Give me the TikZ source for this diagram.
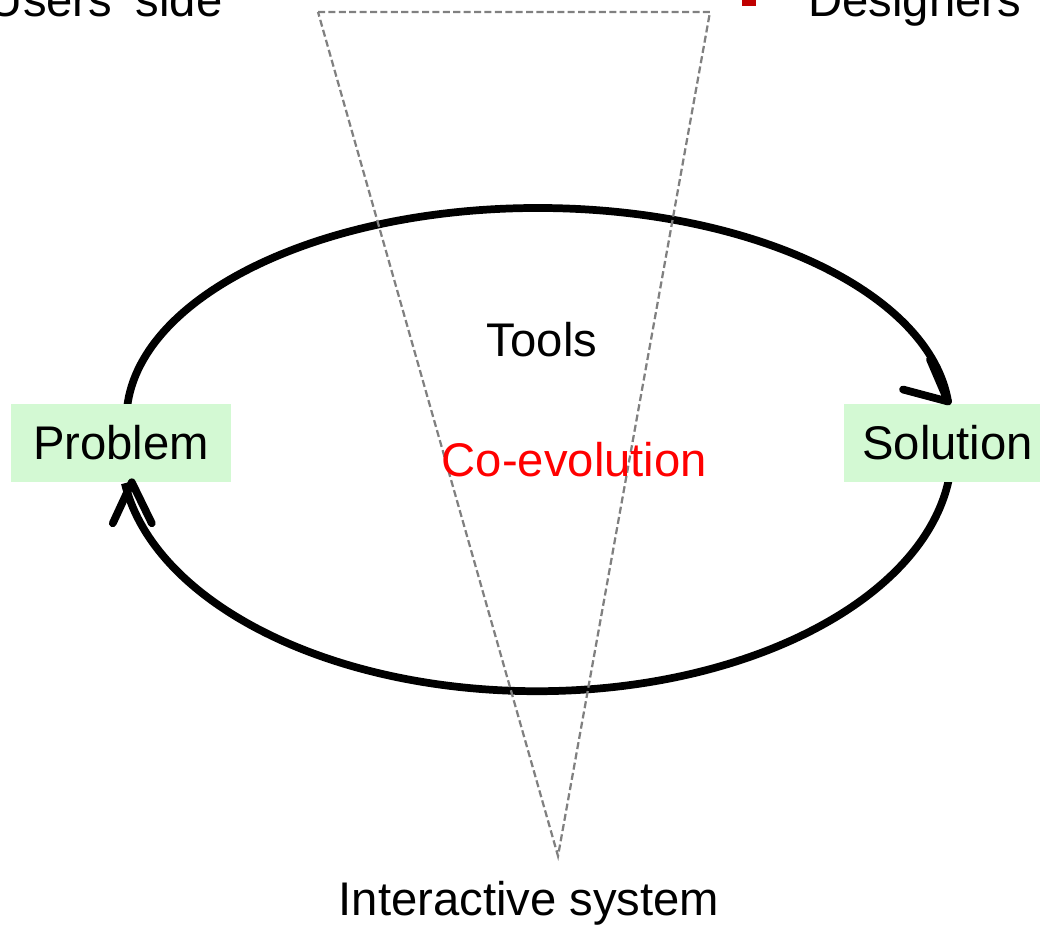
\documentclass[tikz,border=0pt]{standalone}
\usepackage{fontspec}
\setmainfont{Liberation Sans}
\definecolor{boxgreen}{RGB}{211,249,211}
\definecolor{bulletred}{RGB}{192,0,0}
\tikzset{
	greenbox/.style={fill=boxgreen, minimum height=1.95cm, inner sep=0pt},
	loopline/.style={line width=5.5pt},
	barb/.style={line width=5.5pt, line cap=round, line join=round},
	guide/.style={draw=black!50, line width=1.6pt, dash pattern=on 5pt off 2.4pt},
	word/.style={inner sep=0pt}
}

\begin{document}
\begin{tikzpicture}[font=\fontsize{33.6}{40}\selectfont]
		%%%%% START %%%%%
		\useasboundingbox (0, 0) rectangle (26, 23.15);
		
		% the loop
		\draw[loopline] (13.45, 12.65) ++(178:10.29 and 5.3) arc[start angle=178, end angle=5, x radius=10.29, y radius=5.3] coordinate (tipR);
		\draw[loopline] (13.41, 11.91) ++(-6:10.39 and 6.04) arc[start angle=-6, end angle=-172, x radius=10.39, y radius=6.04];
		
		\node[greenbox, minimum width=5.5cm] (prob) at (3.025, 12.075) {Problem};
		\node[greenbox, minimum width=5.175cm] (sol) at (23.69, 12.075) {Solution};
		\coordinate (tipL) at ([xshift=0.27cm]prob.south);
		
		\draw[barb] (tipR) ++(-1.125, 0.3) -- (tipR) -- ++(-0.45, 1.05);
		\draw[barb] (tipL) ++(-0.475, -1.025) -- (tipL) -- ++(0.5, -1.025);
		
		% the cone
		\draw[guide] (7.95, 22.85) -- (17.75, 22.85) -- (13.95, 1.75) -- cycle;
		
		\node[word, anchor=base] (tools) at (13.55, 14.225) {Tools};
		\node[word, anchor=base, text=red] (coevo) at (14.36, 11.225) {Co-evolution};
		\node[word, anchor=base] (system) at (13.225, 0.25) {Interactive system};
		
		\node[word, anchor=base east] (users) at (5.57, 22.725) {Users' side};
		\fill[bulletred] (18.55, 23.0) rectangle (18.9, 23.4);
		\node[word, anchor=base west] (designers) at (20.2, 22.725) {Designers};
		
		%%%%% END %%%%%
	\end{tikzpicture}
\end{document}
